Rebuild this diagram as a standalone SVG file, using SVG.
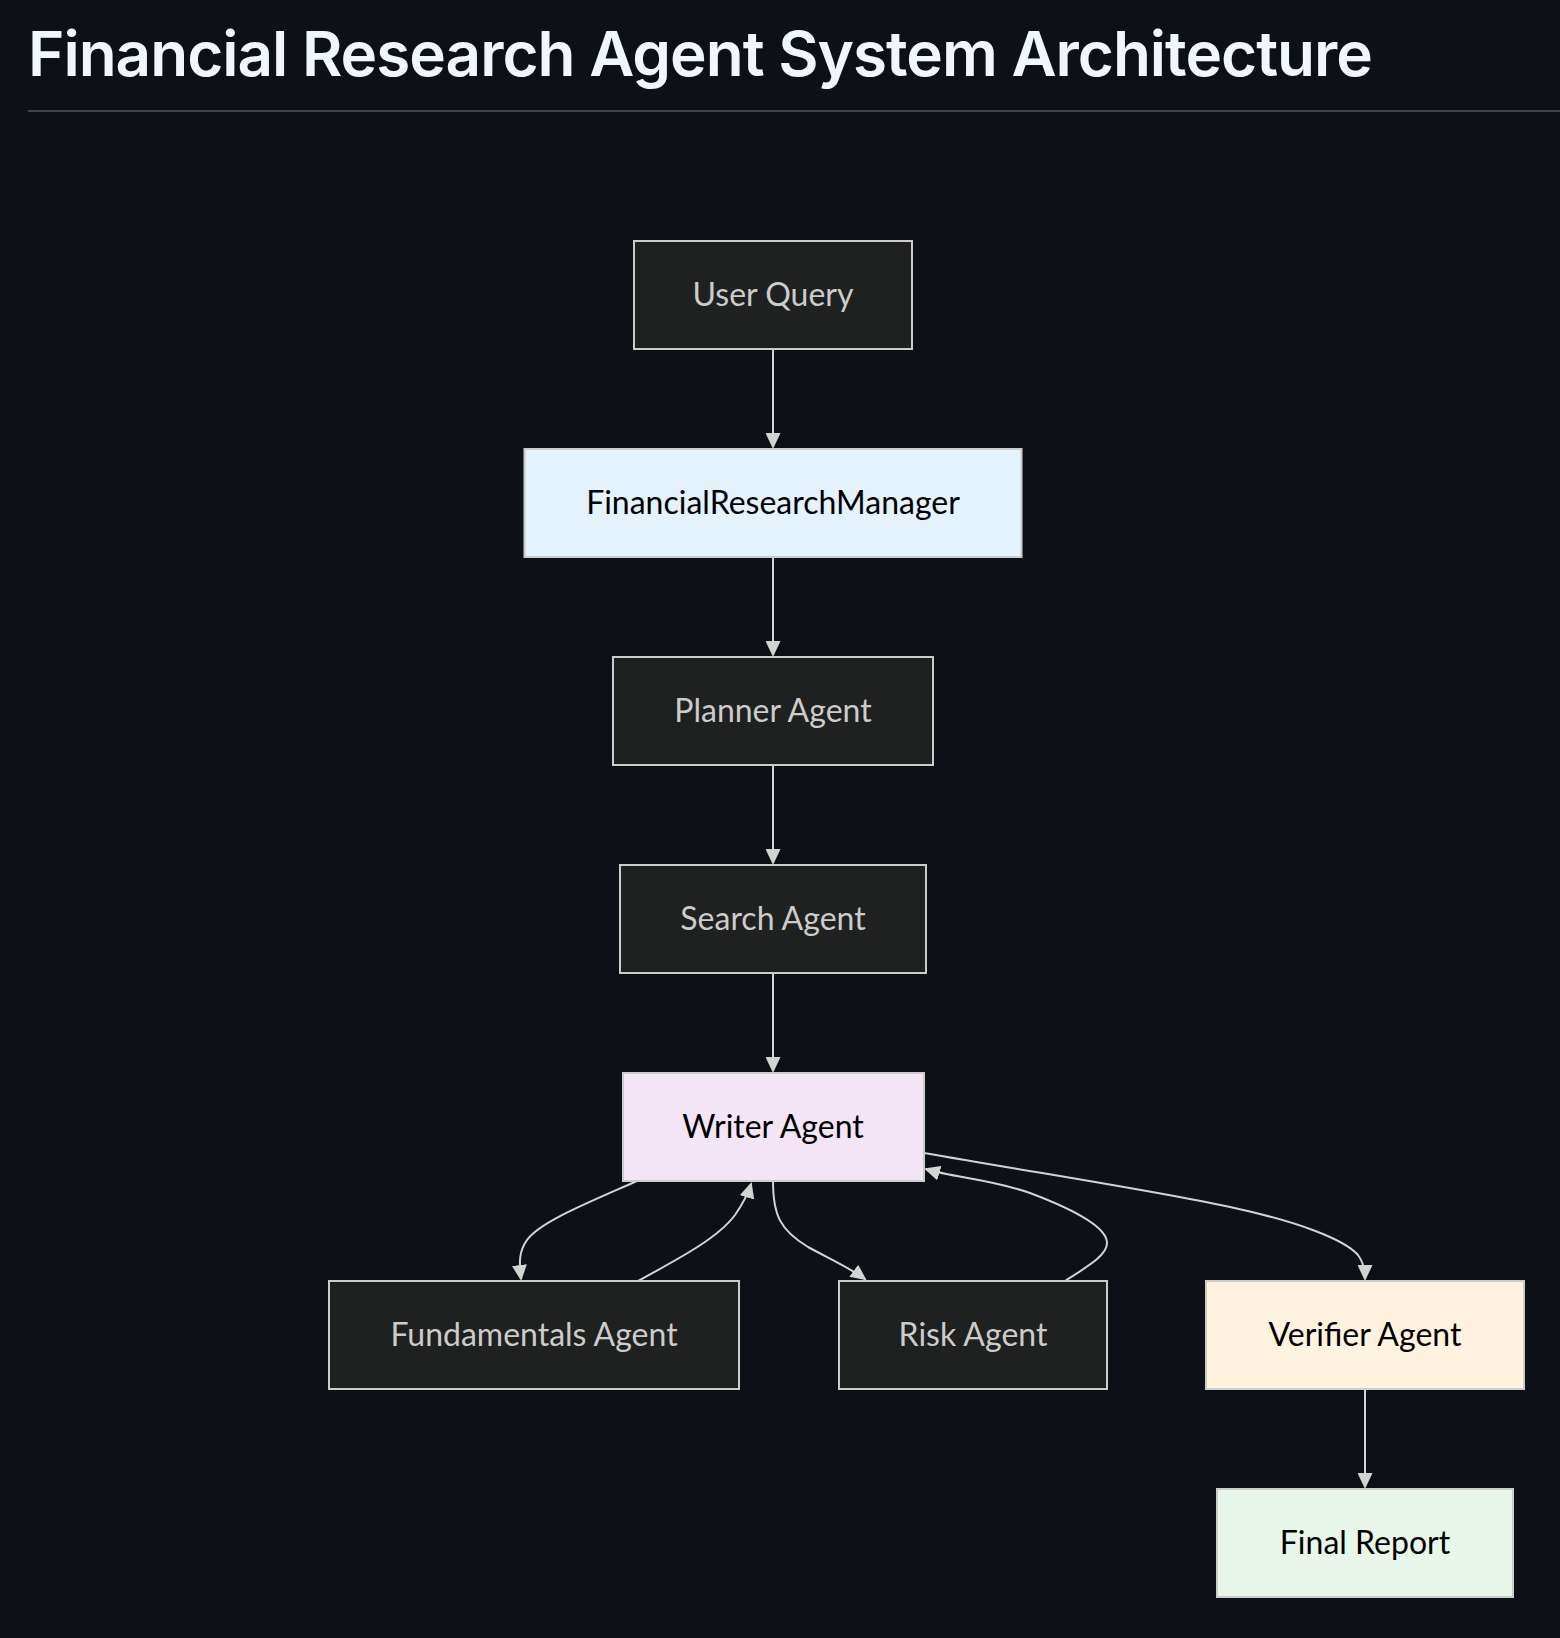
<svg xmlns="http://www.w3.org/2000/svg" width="1560" height="1638" viewBox="0 0 1560 1638">
<defs>
<style>
.title{font-family:Inter,"Liberation Sans",sans-serif;font-weight:600;font-size:62px;letter-spacing:-1px;fill:#f0f6fc;}
.node rect{stroke:#cccccc;stroke-width:2;}
.dark rect{fill:#1f2020;}
.dark text{fill:#cccccc;}
.light text{fill:#000000;}
.node text{font-family:Lato,"Open Sans","Liberation Sans",sans-serif;font-size:32px;text-anchor:middle;}
.edge{fill:none;stroke:#d3d3d3;stroke-width:2;}
</style>
<marker id="arrow" viewBox="0 0 16 15" refX="14" refY="7.5" markerWidth="16" markerHeight="15" markerUnits="userSpaceOnUse" orient="auto">
<path d="M0,0 L16,7.5 L0,15 z" fill="#d3d3d3"/>
</marker>
</defs>
<rect x="0" y="0" width="1560" height="1638" fill="#0d1117"/>
<text class="title" x="28" y="76">Financial Research Agent System Architecture</text>
<rect x="28" y="110" width="1532" height="2" fill="#3d444d"/>

<g id="connectors">
<path class="edge" marker-end="url(#arrow)" d="M773,349 L773,447"/>
<path class="edge" marker-end="url(#arrow)" d="M773,557 L773,655"/>
<path class="edge" marker-end="url(#arrow)" d="M773,765 L773,863"/>
<path class="edge" marker-end="url(#arrow)" d="M773,973 L773,1071"/>
<path class="edge" marker-end="url(#arrow)" d="M637,1181 C585,1204 540,1222 527,1240 C519,1251 519,1262 521,1279"/>
<path class="edge" marker-end="url(#arrow)" d="M638,1281 C680,1258 718,1238 735,1215 C744,1202 748,1194 751,1184"/>
<path class="edge" marker-end="url(#arrow)" d="M773,1181 C773,1215 780,1230 808,1247 C830,1259 850,1268 865,1279"/>
<path class="edge" marker-end="url(#arrow)" d="M1065,1281 C1090,1265 1107,1255 1107,1243 C1107,1228 1075,1210 1030,1193 C990,1179 955,1178 926,1169"/>
<path class="edge" marker-end="url(#arrow)" d="M924,1153 C1050,1175 1150,1190 1230,1207 C1300,1222 1345,1240 1358,1255 C1364,1263 1365,1270 1365,1279"/>
<path class="edge" marker-end="url(#arrow)" d="M1365,1389 L1365,1487"/>
</g>

<g id="user-query" class="node dark">
<rect x="634" y="241" width="278" height="108"/>
<text x="773" y="306">User Query</text>
</g>
<g id="financial-research-manager" class="node light">
<rect x="524.5" y="449" width="497" height="108" fill="#e3f2fd"/>
<text x="773" y="514">FinancialResearchManager</text>
</g>
<g id="planner-agent" class="node dark">
<rect x="613" y="657" width="320" height="108"/>
<text x="773" y="722">Planner Agent</text>
</g>
<g id="search-agent" class="node dark">
<rect x="620" y="865" width="306" height="108"/>
<text x="773" y="930">Search Agent</text>
</g>
<g id="writer-agent" class="node light">
<rect x="623" y="1073" width="301" height="108" fill="#f3e5f5"/>
<text x="773" y="1138">Writer Agent</text>
</g>
<g id="fundamentals-agent" class="node dark">
<rect x="329" y="1281" width="410" height="108"/>
<text x="534" y="1346">Fundamentals Agent</text>
</g>
<g id="risk-agent" class="node dark">
<rect x="839" y="1281" width="268" height="108"/>
<text x="973" y="1346">Risk Agent</text>
</g>
<g id="verifier-agent" class="node light">
<rect x="1206" y="1281" width="318" height="108" fill="#fff3e0"/>
<text x="1365" y="1346">Verifier Agent</text>
</g>
<g id="final-report" class="node light">
<rect x="1217" y="1489" width="296" height="108" fill="#e8f5e9"/>
<text x="1365" y="1554">Final Report</text>
</g>
</svg>
